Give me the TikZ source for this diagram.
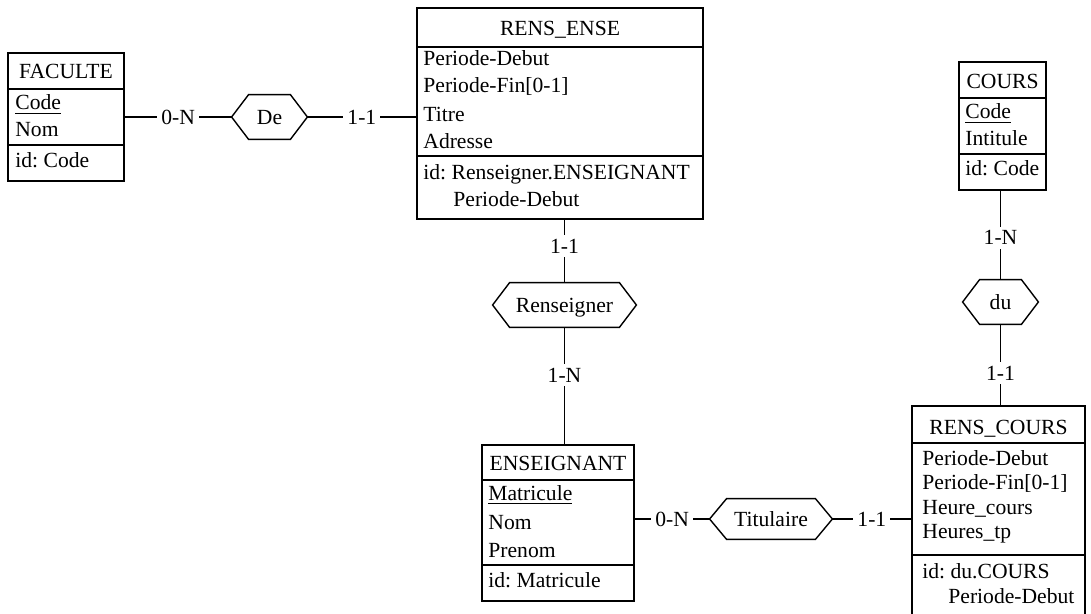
\documentclass[tikz,border=0pt]{standalone}
\usepackage{fontspec}
\setmainfont{Liberation Serif}
\usetikzlibrary{fit}

% elongated hexagon drawn around a relationship node, with its name centred
\newcommand\relshape[2]{%
  \draw[link] (#1.west) -- ([xshift=8.5pt]#1.north west) -- ([xshift=-8.5pt]#1.north east)
    -- (#1.east) -- ([xshift=-8.5pt]#1.south east) -- ([xshift=8.5pt]#1.south west) -- cycle;
  \node[ttl, yshift=-3.7pt] (#1-name) at (#1.center) {#2};}

\begin{document}
\begin{tikzpicture}[x=0.5pt,y=-0.5pt,
  every node/.style={font=\fontsize{10.8}{13}\selectfont\frenchspacing},
  link/.style={draw, line width=0.7pt},
  entity/.style={draw, line width=0.7pt, inner sep=0pt},
  relnode/.style={inner sep=0pt},
  txt/.style={anchor=base west, inner sep=0pt},
  ttl/.style={anchor=base, inner sep=0pt},
  card/.style={fill=white, inner sep=2pt}
]
\useasboundingbox (0,0) rectangle (1091,614);
\fill[white] (0,0) rectangle (1091,614);

% ---------- entity types ----------
% FACULTE
\node[entity, fit={(8,53) (124,181)}] (fac) {};
\draw[link] (fac.west |- 0,89) -- (fac.east |- 0,89);
\draw[link] (fac.west |- 0,145) -- (fac.east |- 0,145);
\node[ttl] (fac-t) at (66,79) {FACULTE};
\node[txt] (fac-a1) at (15,110) {\underline{Code}};
\node[txt] (fac-a2) at (15,137) {Nom};
\node[txt] (fac-id) at (15,168) {id: Code};

% RENS_ENSE
\node[entity, fit={(417,8) (703,219)}] (ense) {};
\draw[link] (ense.west |- 0,47) -- (ense.east |- 0,47);
\draw[link] (ense.west |- 0,156) -- (ense.east |- 0,156);
\node[ttl] (ense-t) at (560,36) {RENS\_ENSE};
\node[txt] (ense-a1) at (423,66) {Periode-Debut};
\node[txt] (ense-a2) at (423,93) {Periode-Fin[0-1]};
\node[txt] (ense-a3) at (423,122) {Titre};
\node[txt] (ense-a4) at (423,149) {Adresse};
\node[txt] (ense-id) at (423,180) {id: Renseigner.ENSEIGNANT};
\node[txt] (ense-id2) at (453,207) {Periode-Debut};

% COURS
\node[entity, fit={(959,62) (1046,190)}] (cours) {};
\draw[link] (cours.west |- 0,98) -- (cours.east |- 0,98);
\draw[link] (cours.west |- 0,154) -- (cours.east |- 0,154);
\node[ttl] (cours-t) at (1002.5,89) {COURS};
\node[txt] (cours-a1) at (965,119) {\underline{Code}};
\node[txt] (cours-a2) at (965,146) {Intitule};
\node[txt] (cours-id) at (965,176) {id: Code};

% ENSEIGNANT
\node[entity, fit={(482,445) (634,601)}] (ens) {};
\draw[link] (ens.west |- 0,480) -- (ens.east |- 0,480);
\draw[link] (ens.west |- 0,565) -- (ens.east |- 0,565);
\node[ttl] (ens-t) at (558,470) {ENSEIGNANT};
\node[txt] (ens-a1) at (488,500) {\underline{Matricule}};
\node[txt] (ens-a2) at (488,529) {Nom};
\node[txt] (ens-a3) at (488,557) {Prenom};
\node[txt] (ens-id) at (488,587) {id: Matricule};

% RENS_COURS
\node[entity, fit={(912,406) (1085,640)}] (rc) {};
\draw[link] (rc.west |- 0,443) -- (rc.east |- 0,443);
\draw[link] (rc.west |- 0,555) -- (rc.east |- 0,555);
\node[ttl] (rc-t) at (998.5,434) {RENS\_COURS};
\node[txt] (rc-a1) at (922,465) {Periode-Debut};
\node[txt] (rc-a2) at (922,489) {Periode-Fin[0-1]};
\node[txt] (rc-a3) at (922,514) {Heure\_cours};
\node[txt] (rc-a4) at (922,538) {Heures\_tp};
\node[txt] (rc-id) at (922,578) {id: du.COURS};
\node[txt] (rc-id2) at (948,603) {Periode-Debut};

% ---------- relationship types ----------
\node[relnode, fit={(232,95) (307,139)}] (de) {};
\relshape{de}{De}
\node[relnode, fit={(493,283) (636,327)}] (ren) {};
\relshape{ren}{Renseigner}
\node[relnode, fit={(963,280) (1038,324)}] (du) {};
\relshape{du}{du}
\node[relnode, fit={(710,499) (832,539)}] (tit) {};
\relshape{tit}{Titulaire}

% ---------- roles ----------
\draw[link] (fac.east |- de.west) -- node[card] (c1) {0-N} (de.west);
\draw[link] (de.east) -- node[card] (c2) {1-1} (de.east -| ense.west);
\draw[link] (ren.north |- ense.south) -- node[card, pos=0.42] (c3) {1-1} (ren.north);
\draw[link] (ren.south) -- node[card, pos=0.41] (c4) {1-N} (ren.south |- ens.north);
\draw[link] (du.north |- cours.south) -- node[card, pos=0.53] (c5) {1-N} (du.north);
\draw[link] (du.south) -- node[card, pos=0.6] (c6) {1-1} (du.south |- rc.north);
\draw[link] (ens.east |- tit.west) -- node[card] (c7) {0-N} (tit.west);
\draw[link] (tit.east) -- node[card] (c8) {1-1} (tit.east -| rc.west);
\end{tikzpicture}
\end{document}
